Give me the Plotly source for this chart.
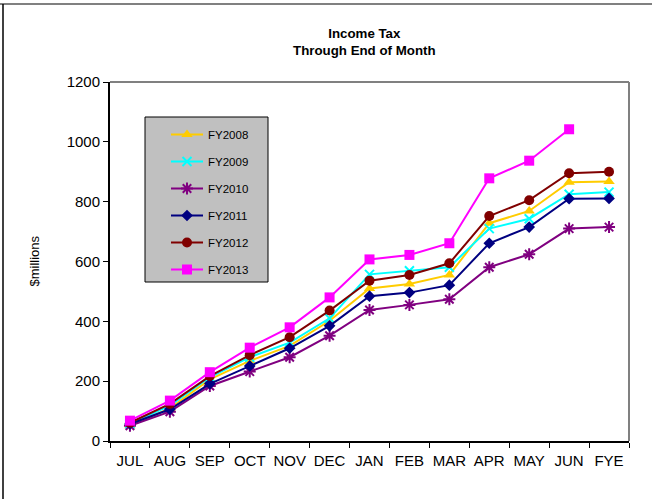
import plotly.graph_objects as go

# Month-end cumulative income tax collections ($ millions)
months = ["JUL", "AUG", "SEP", "OCT", "NOV", "DEC", "JAN", "FEB", "MAR", "APR", "MAY", "JUN", "FYE"]

fy2008 = [51, 109, 206, 268, 318, 402, 510, 525, 555, 728, 769, 865, 867]
fy2009 = [57, 118, 213, 280, 329, 410, 557, 569, 581, 710, 743, 825, 832]
fy2010 = [51, 98, 184, 232, 280, 352, 438, 455, 474, 581, 624, 710, 715]
fy2011 = [57, 106, 191, 251, 310, 385, 484, 496, 521, 661, 715, 810, 811]
fy2012 = [61, 124, 217, 287, 347, 436, 536, 555, 594, 752, 805, 895, 900]
fy2013 = [68, 135, 230, 312, 380, 480, 607, 622, 661, 878, 937, 1042, None]

series = [
    ("FY2008", fy2008, "#FFCC00", "triangle-up", 10),
    ("FY2009", fy2009, "#00FFFF", "x-thin-open", 9),
    ("FY2010", fy2010, "#800080", "asterisk-open", 10),
    ("FY2011", fy2011, "#000080", "diamond", 9),
    ("FY2012", fy2012, "#800000", "circle", 10),
    ("FY2013", fy2013, "#FF00FF", "square", 10),
]

fig = go.Figure()
for name, vals, color, symbol, size in series:
    fig.add_trace(go.Scatter(
        x=months, y=vals, name=name, legendgroup=name,
        mode="lines+markers",
        line=dict(color=color, width=2),
        marker=dict(symbol=symbol, size=size, color=color,
                    line=dict(color=color, width=2 if "open" in symbol else 0)),
    ))

# plot area spans x 110..629 px, y 82..441 px of the 652x499 canvas
W, H = 652, 499
L, R, T, B = 110, 629, 82, 441
pw, ph = R - L, B - T


def px(x):
    return (x - L) / pw


def py(y):
    return (B - y) / ph


shapes = [
    # gray top/right frame of the plot area
    dict(type="line", xref="paper", yref="paper", x0=0, x1=1, y0=1, y1=1,
         line=dict(color="#808080", width=2)),
    dict(type="line", xref="paper", yref="paper", x0=1, x1=1, y0=0, y1=1,
         line=dict(color="#808080", width=2)),
    # outer chart frame
    dict(type="line", xref="paper", yref="paper", x0=px(0), x1=px(W), y0=py(4), y1=py(4),
         line=dict(color="#808080", width=2)),
    dict(type="line", xref="paper", yref="paper", x0=px(3), x1=px(3), y0=py(4), y1=py(H + 5),
         line=dict(color="#000000", width=1.5)),
    # legend box
    dict(type="rect", xref="paper", yref="paper", x0=px(145), x1=px(268), y0=py(282), y1=py(117),
         line=dict(color="#000000", width=1), fillcolor="#C0C0C0", layer="below"),
]

fig.update_layout(
    width=W, height=H,
    margin=dict(l=L, r=W - R, t=T, b=H - B, pad=0),
    paper_bgcolor="white", plot_bgcolor="white",
    font=dict(family="Arial, Liberation Sans, sans-serif", color="black", size=15),
    title=dict(text="<b>Income Tax<br>Through End of Month</b>",
               x=0.49, xref="paper", xanchor="center",
               y=1 - 38 / H, yref="container", yanchor="middle",
               font=dict(size=13.3, color="black")),
    showlegend=True,
    legend=dict(x=px(166), y=py(120), xanchor="left", yanchor="top",
                bgcolor="rgba(0,0,0,0)", borderwidth=0,
                font=dict(size=11.5), tracegroupgap=8, itemwidth=32),
    shapes=shapes,
    annotations=[dict(text="$millions", xref="paper", yref="paper",
                      x=px(34), y=0.5, xanchor="center", yanchor="middle",
                      textangle=-90, showarrow=False,
                      font=dict(size=13))],
    xaxis=dict(type="category", range=[-0.5, 12.5], tickson="boundaries",
               tickangle=0, ticks="outside", ticklen=5, tickcolor="black",
               ticklabelstandoff=5,
               showline=True, linecolor="black", linewidth=2,
               showgrid=False, zeroline=False, fixedrange=True),
    yaxis=dict(range=[0, 1200], dtick=200, ticks="outside", ticklen=5,
               tickcolor="black", showline=True, linecolor="black", linewidth=2,
               showgrid=False, zeroline=False, fixedrange=True),
)

fig.write_html("out.html")
